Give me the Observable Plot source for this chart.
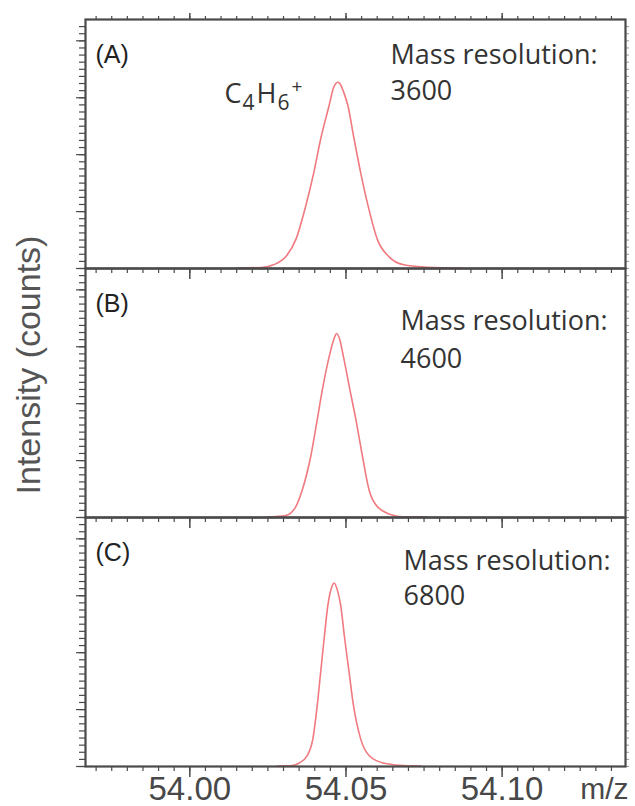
<!DOCTYPE html>
<html>
<head>
<meta charset="utf-8">
<script src="https://cdn.jsdelivr.net/npm/d3@7"></script>
<script src="https://cdn.jsdelivr.net/npm/@observablehq/plot@0.6"></script>
<style>
  body { margin: 0; background: #fff; }
  #chart svg { display: block; }
</style>
</head>
<body>
<div id="chart"></div>
<script>
// Panels and their mass resolutions
const panels = ["A", "B", "C"];
const resolutions = [3600, 4600, 6800];
const ionLabel = "C4H6+";

// Panel A: C4H6+ peak, resolution 3600
const mzA = [54.0150, 54.0230, 54.0268, 54.0307, 54.0339, 54.0371, 54.0397, 54.0419, 54.0446, 54.0460,
             54.0474, 54.0482, 54.0492, 54.0506, 54.0526, 54.0547, 54.0571, 54.0601, 54.0638, 54.0685,
             54.0760, 54.0810, 54.0870];
const countsA = [4, 7, 26, 82, 201, 438, 674, 910, 1146, 1269,
                 1309, 1295, 1243, 1146, 910, 674, 438, 201, 82, 26,
                 9, 5, 4];

// Panel B: resolution 4600
const mzB = [54.0250, 54.0307, 54.0339, 54.0360, 54.0387, 54.0406, 54.0424, 54.0446, 54.0461, 54.0470,
             54.0480, 54.0492, 54.0513, 54.0534, 54.0553, 54.0574, 54.0601, 54.0654, 54.0685, 54.0760];
const countsB = [4, 14, 75, 193, 427, 662, 893, 1129, 1251, 1293,
                 1251, 1129, 893, 662, 427, 193, 75, 14, 5, 4];

// Panel C: resolution 6800
const mzC = [54.0280, 54.0323, 54.0349, 54.0376, 54.0394, 54.0408, 54.0419, 54.0430, 54.0442, 54.0453,
             54.0462, 54.0472, 54.0483, 54.0496, 54.0510, 54.0524, 54.0547, 54.0574, 54.0622, 54.0697,
             54.0740];
const countsC = [4, 5, 23, 77, 194, 429, 663, 896, 1132, 1251,
                 1290, 1243, 1132, 896, 663, 429, 194, 77, 23, 5,
                 4];

// Axis ticks
const xMajorTicks = [54.00, 54.05, 54.10];
const xMinorTicks = d3.range(0, 34).map(i => 53.97 + i * 0.005);
const yMinorTicks = d3.range(0, 35).map(i => i * 50);
const yMajorTicks = [0, 400, 800, 1200, 1600];

// Tidy rows for the line mark
const series = [[mzA, countsA], [mzB, countsB], [mzC, countsC]];
const spectra = series.flatMap(([mz, counts], i) =>
  mz.map((m, j) => ({panel: panels[i], mz: m, counts: counts[j]})));
const panelInfo = panels.map((p, i) => ({panel: p, tag: `(${p})`, resolution: resolutions[i]}));

const axisColor = "#4a4a4a";
const textColor = "#333";
const noLabel = () => "";
const noteFont = "Open Sans";

// Resolution annotation for one panel
function resolutionNote(panel, dx, dyTitle, dyValue) {
  const rows = panelInfo.filter(d => d.panel === panel);
  return [
    Plot.text(rows, {fy: "panel", text: () => "Mass resolution:", frameAnchor: "top-left",
      textAnchor: "start", lineAnchor: "bottom", dx, dy: dyTitle,
      fontFamily: noteFont, fontSize: 27, fill: textColor}),
    Plot.text(rows, {fy: "panel", text: d => String(d.resolution), frameAnchor: "top-left",
      textAnchor: "start", lineAnchor: "bottom", dx, dy: dyValue,
      fontFamily: noteFont, fontSize: 27, fill: textColor})
  ];
}

const chart = Plot.plot({
  width: 635,
  height: 806,
  marginLeft: 85,
  marginRight: 10,
  marginTop: 18,
  marginBottom: 40,
  style: {fontFamily: "Liberation Sans", background: "#fff"},
  x: {domain: [53.9666, 54.1395]},
  y: {domain: [0, 1750]},
  fy: {domain: panels, padding: 0, axis: null},
  marks: [
    // left intensity ticks (no labels)
    Plot.axisY({ticks: yMinorTicks, tickSize: 6, tickFormat: noLabel, label: null, stroke: axisColor, strokeWidth: 1.2}),
    Plot.axisY({ticks: yMajorTicks, tickSize: 9, tickFormat: noLabel, label: null, stroke: axisColor, strokeWidth: 1.2}),
    // faint right-hand ticks
    Plot.axisY({anchor: "right", ticks: yMinorTicks, tickSize: 3, tickFormat: noLabel, label: null, stroke: "#9a9a9a"}),
    // m/z ticks along every panel boundary
    Plot.axisX({anchor: "bottom", facetAnchor: null, ticks: xMinorTicks, tickSize: 5, tickFormat: noLabel,
      label: null, stroke: axisColor, strokeWidth: 1.2}),
    Plot.axisX({anchor: "bottom", facetAnchor: null, ticks: xMajorTicks, tickSize: 11, tickFormat: noLabel,
      label: null, stroke: axisColor, strokeWidth: 1.5}),
    Plot.axisX({anchor: "top", facetAnchor: "top", ticks: xMinorTicks, tickSize: 4, tickFormat: noLabel,
      label: null, stroke: axisColor, strokeWidth: 1.2}),
    Plot.axisX({anchor: "top", facetAnchor: "top", ticks: xMajorTicks, tickSize: 7, tickFormat: noLabel,
      label: null, stroke: axisColor, strokeWidth: 1.5}),
    // m/z tick labels under the bottom panel
    Plot.axisX({anchor: "bottom", ticks: xMajorTicks, tickSize: 0, tickPadding: 10, label: null,
      tickFormat: d3.format(".2f"), fontSize: 33, fill: "#484848"}),
    // spectra
    Plot.line(spectra, {x: "mz", y: "counts", fy: "panel", stroke: "#f07a80", strokeWidth: 1.6,
      curve: "monotone-x"}),
    Plot.frame({stroke: axisColor, strokeWidth: 2.2}),
    // panel tags
    Plot.text(panelInfo, {fy: "panel", text: "tag", frameAnchor: "top-left", textAnchor: "start",
      lineAnchor: "middle", dx: 10, dy: 35, fontSize: 25, fill: "#222"}),
    // ion label on the first peak
    Plot.text(panelInfo.filter(d => d.panel === "A"), {fy: "panel", text: () => ionLabel,
      frameAnchor: "top-left", textAnchor: "start", lineAnchor: "bottom", dx: 139, dy: 83,
      fontFamily: noteFont, fontSize: 27, fill: textColor}),
    ...resolutionNote("A", 305, 44, 80),
    ...resolutionNote("B", 315, 61, 99),
    ...resolutionNote("C", 318, 52, 87),
    // axis titles
    Plot.text(panelInfo.filter(d => d.panel === "C"), {fy: "panel", text: () => "m/z",
      frameAnchor: "bottom-right", textAnchor: "end", lineAnchor: "bottom", dx: 3, dy: 32,
      fontSize: 30, fill: "#484848"}),
    Plot.text(panelInfo.filter(d => d.panel === "B"), {fy: "panel", text: () => "Intensity (counts)",
      frameAnchor: "left", textAnchor: "middle", lineAnchor: "middle", rotate: -90, dx: -56, dy: -28,
      fontSize: 34, fill: "#555"})
  ]
});

document.getElementById("chart").append(chart);

// Typeset the ion formula with subscripts and a superscript charge
chart.querySelectorAll("text").forEach(t => {
  if (t.textContent !== ionLabel) return;
  t.textContent = "";
  const parts = [
    {s: "C", size: 27, dx: 0, dy: 0},
    {s: "4", size: 21, dx: 1, dy: 7},
    {s: "H", size: 27, dx: 2, dy: -7},
    {s: "6", size: 21, dx: 1, dy: 7},
    {s: "+", size: 19, dx: 2, dy: -17}
  ];
  parts.forEach(p => {
    const ts = document.createElementNS("http://www.w3.org/2000/svg", "tspan");
    ts.textContent = p.s;
    ts.setAttribute("font-size", p.size);
    ts.setAttribute("dx", p.dx);
    ts.setAttribute("dy", p.dy);
    t.appendChild(ts);
  });
});
</script>
</body>
</html>
